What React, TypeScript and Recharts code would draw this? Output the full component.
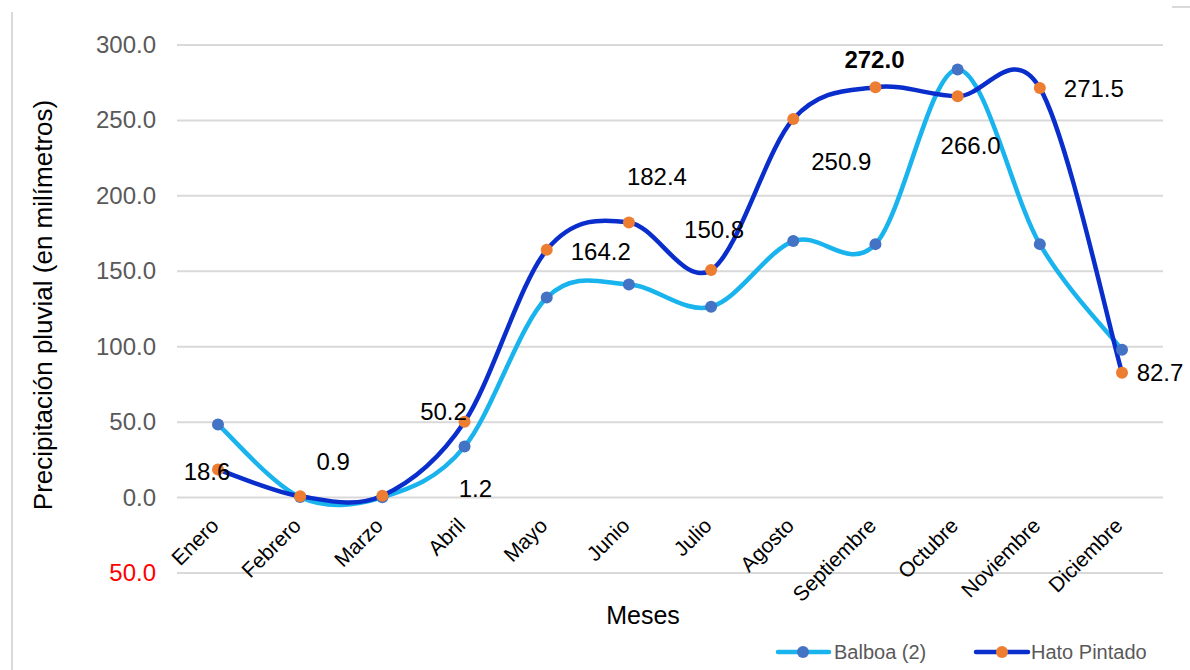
import React from "react";
import { LineChart, Line, XAxis, YAxis, CartesianGrid } from "recharts";

const meses = [
  "Enero",
  "Febrero",
  "Marzo",
  "Abril",
  "Mayo",
  "Junio",
  "Julio",
  "Agosto",
  "Septiembre",
  "Octubre",
  "Noviembre",
  "Diciembre",
];
const balboa = [48.4, 0.3, 0.2, 33.8, 132.6, 141.2, 126.5, 170.0, 168.0, 283.8, 168.0, 98.0];
const hatoPintado = [18.6, 0.9, 1.2, 50.2, 164.2, 182.4, 150.8, 250.9, 272.0, 266.0, 271.5, 82.7];
const yTicks = [-50, 0, 50, 100, 150, 200, 250, 300];

// where Excel left each data label, relative to its point
const labelOffsets: [number, number][] = [
  [-11, 2],
  [33, -34],
  [93, -7],
  [-21, -10],
  [54, 2],
  [28, -45],
  [3, -40],
  [48, 43],
  [-1, -27],
  [13, 50],
  [54, 1],
  [38, 0],
];

const FONT = "'Liberation Sans', Arial, sans-serif";

const data = meses.map((mes, i) => ({
  mes,
  balboa: balboa[i],
  hato: hatoPintado[i],
}));

// Excel-style smoothed line (Catmull-Rom as cubic Bezier)
const excelCurve = (context: any) => {
  let pts: [number, number][] = [];
  return {
    areaStart() {},
    areaEnd() {},
    lineStart() {
      pts = [];
    },
    point(x: number, y: number) {
      pts.push([+x, +y]);
    },
    lineEnd() {
      if (!pts.length) return;
      context.moveTo(pts[0][0], pts[0][1]);
      for (let i = 0; i < pts.length - 1; i++) {
        const p0 = pts[i - 1] || pts[i];
        const p1 = pts[i];
        const p2 = pts[i + 1];
        const p3 = pts[i + 2] || p2;
        context.bezierCurveTo(
          p1[0] + (p2[0] - p0[0]) / 6,
          p1[1] + (p2[1] - p0[1]) / 6,
          p2[0] - (p3[0] - p1[0]) / 6,
          p2[1] - (p3[1] - p1[1]) / 6,
          p2[0],
          p2[1]
        );
      }
    },
  };
};

const YTick = (props: any) => {
  const { y, payload } = props;
  const v = payload.value as number;
  return (
    <text
      x={156}
      y={y}
      dy={8}
      textAnchor="end"
      fontFamily={FONT}
      fontSize={24}
      fill={v < 0 ? "#ff0000" : "#595959"}
    >
      {Math.abs(v).toFixed(1)}
    </text>
  );
};

// month labels sit just under the 0 line, as in Excel
const XTick = (props: any) => {
  const { x, payload } = props;
  const tx = x + 2;
  const ty = 527;
  return (
    <text
      x={tx}
      y={ty}
      textAnchor="end"
      fontFamily={FONT}
      fontSize={21}
      fill="#000000"
      transform={`rotate(-45, ${tx}, ${ty})`}
    >
      {payload.value}
    </text>
  );
};

const HatoLabel = (props: any) => {
  const { x, y, index, value } = props;
  const [dx, dy] = labelOffsets[index];
  return (
    <text
      x={x + dx}
      y={y + dy}
      dy={8}
      textAnchor="middle"
      fontFamily={FONT}
      fontSize={24}
      fontWeight={index === 8 ? "bold" : "normal"}
      fill="#000000"
    >
      {Number(value).toFixed(1)}
    </text>
  );
};

export default function App() {
  return (
    <div style={{ position: "absolute", left: 0, top: 0, width: 1190, height: 670, background: "#fff" }}>
      <LineChart
        width={1190}
        height={670}
        data={data}
        margin={{ top: 45, right: 27, bottom: 0, left: 0 }}
      >
        <CartesianGrid vertical={false} stroke="#d9d9d9" strokeWidth={2} />
        <XAxis
          dataKey="mes"
          axisLine={false}
          tickLine={false}
          interval={0}
          tick={<XTick />}
          height={97}
          padding={{ left: 41, right: 41 }}
        />
        <YAxis
          domain={[-50, 300]}
          ticks={yTicks}
          axisLine={false}
          tickLine={false}
          width={177}
          tick={<YTick />}
          interval={0}
        />
        <Line
          dataKey="balboa"
          name="Balboa (2)"
          type={excelCurve as any}
          stroke="#19b4ee"
          strokeWidth={4.5}
          dot={{ r: 6, fill: "#4472c4", stroke: "#4472c4", strokeWidth: 0 }}
          isAnimationActive={false}
        />
        <Line
          dataKey="hato"
          name="Hato Pintado"
          type={excelCurve as any}
          stroke="#0a2ecc"
          strokeWidth={4.5}
          dot={{ r: 6, fill: "#ed7d31", stroke: "#ed7d31", strokeWidth: 0 }}
          label={<HatoLabel />}
          isAnimationActive={false}
        />
        {/* titles */}
        <text
          x={52}
          y={305}
          textAnchor="middle"
          fontFamily={FONT}
          fontSize={26}
          fill="#000"
          transform="rotate(-90, 52, 305)"
        >
          Precipitación pluvial (en milímetros)
        </text>
        <text x={643} y={624} textAnchor="middle" fontFamily={FONT} fontSize={25} fill="#000">
          Meses
        </text>
        {/* legend */}
        <line x1={778} y1={652} x2={829} y2={652} stroke="#19b4ee" strokeWidth={4.5} strokeLinecap="round" />
        <circle cx={803} cy={652} r={6} fill="#4472c4" />
        <text x={834} y={659} fontFamily={FONT} fontSize={20} fill="#595959">
          Balboa (2)
        </text>
        <line x1={976} y1={652} x2={1028} y2={652} stroke="#0a2ecc" strokeWidth={4.5} strokeLinecap="round" />
        <circle cx={1002} cy={652} r={6} fill="#ed7d31" />
        <text x={1031} y={659} fontFamily={FONT} fontSize={20} fill="#595959">
          Hato Pintado
        </text>
        {/* chart frame edges */}
        <line x1={12} y1={12} x2={12} y2={670} stroke="#d9d9d9" strokeWidth={2} />
        <line x1={1172} y1={7} x2={1190} y2={7} stroke="#d9d9d9" strokeWidth={2} />
      </LineChart>
    </div>
  );
}
